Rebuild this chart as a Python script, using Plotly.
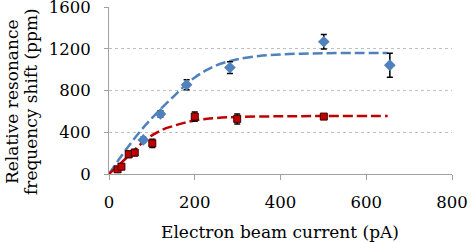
import plotly.graph_objects as go

blue_x = [80, 120, 181, 282, 501, 655]
blue_y = [326, 576, 854, 1020, 1267, 1043]
blue_err = [25, 30, 48, 56, 70, 115]

red_x = [20, 29, 46, 60, 101, 200, 299, 501]
red_y = [45, 70, 189, 205, 294, 550, 528, 550]
red_err = [25, 25, 30, 30, 40, 45, 48, 12]

# Fitted trend curves
blue_fit_x = [0, 25, 50, 75, 100, 125, 150, 175, 200, 225, 250, 275, 300, 350, 400, 450, 500, 575, 650]
blue_fit_y = [0, 150, 290, 420, 535, 640, 740, 840, 925, 990, 1040, 1075, 1100, 1130, 1146, 1153, 1157, 1159, 1160]

red_fit_x = [0, 25, 50, 75, 100, 125, 150, 175, 200, 225, 250, 300, 400, 500, 650]
red_fit_y = [0, 95, 190, 290, 370, 425, 460, 490, 512, 527, 537, 547, 553, 555, 555]

x_ticks = [0, 200, 400, 600, 800]
y_ticks = [0, 400, 800, 1200, 1600]

x_title = "Electron beam current (pA)"
y_title_lines = ["Relative resonance", "frequency shift (ppm)"]

BLUE = "#4F81BD"
RED = "#C00000"
FONT = "DejaVu Serif"

W, H = 471, 242
L, R, T, B = 109, 19, 7, 68
PW, PH = W - L - R, H - T - B


def px_x(p):
    return (p - L) / PW


def px_y(p):
    return (H - B - p) / PH


fig = go.Figure()
fig.add_trace(go.Scatter(x=blue_fit_x, y=blue_fit_y, mode="lines",
                         line=dict(color=BLUE, width=2.5, dash="10px,4px", shape="spline"), hoverinfo="skip"))
fig.add_trace(go.Scatter(x=red_fit_x, y=red_fit_y, mode="lines",
                         line=dict(color=RED, width=2.5, dash="10px,4px", shape="spline"), hoverinfo="skip"))
fig.add_trace(go.Scatter(x=blue_x, y=blue_y, mode="markers",
                         marker=dict(symbol="diamond", size=9, color=BLUE),
                         error_y=dict(type="data", array=blue_err, color="#000000", thickness=1.5, width=3)))
fig.add_trace(go.Scatter(x=red_x, y=red_y, mode="markers",
                         marker=dict(symbol="square", size=7, color=RED, line=dict(color="#400000", width=1)),
                         error_y=dict(type="data", array=red_err, color="#000000", thickness=1.5, width=3)))

fig.update_layout(
    width=W, height=H, showlegend=False,
    margin=dict(l=L, r=R, t=T, b=B, autoexpand=False),
    plot_bgcolor="white", paper_bgcolor="white",
    font=dict(family=FONT, size=16, color="#000000"),
    xaxis=dict(range=[0, 800], tickvals=x_ticks, ticktext=[str(v) for v in x_ticks],
               showgrid=False, zeroline=False, showline=True, linecolor="#A0A0A0", linewidth=1,
               ticks="outside", ticklen=5, tickcolor="#A0A0A0", automargin=False,
               ticklabeloverflow="allow", ticklabelstandoff=8,
               tickfont=dict(size=16.5)),
    yaxis=dict(range=[0, 1600], tickvals=y_ticks, ticktext=[str(v) for v in y_ticks],
               showgrid=True, gridcolor="#BFBFBF", griddash="dot", gridwidth=1,
               zeroline=False, showline=True, linecolor="#A0A0A0", linewidth=1,
               ticks="outside", ticklen=4, tickcolor="#A0A0A0", automargin=False,
               ticklabeloverflow="allow", ticklabelstandoff=10,
               tickfont=dict(size=16.5)),
)

fig.add_annotation(text=x_title, xref="paper", yref="paper", x=px_x(280), y=px_y(232),
                   xanchor="center", yanchor="middle", showarrow=False, font=dict(size=17))
for txt, cx in zip(y_title_lines, [12, 31]):
    fig.add_annotation(text=txt, xref="paper", yref="paper", x=px_x(cx), y=px_y(102),
                       xanchor="center", yanchor="middle", textangle=-90, showarrow=False,
                       font=dict(size=17))

fig.write_html("out.html", config={"displayModeBar": False},
               post_script="document.body.style.margin='0';document.body.style.overflow='hidden';")
